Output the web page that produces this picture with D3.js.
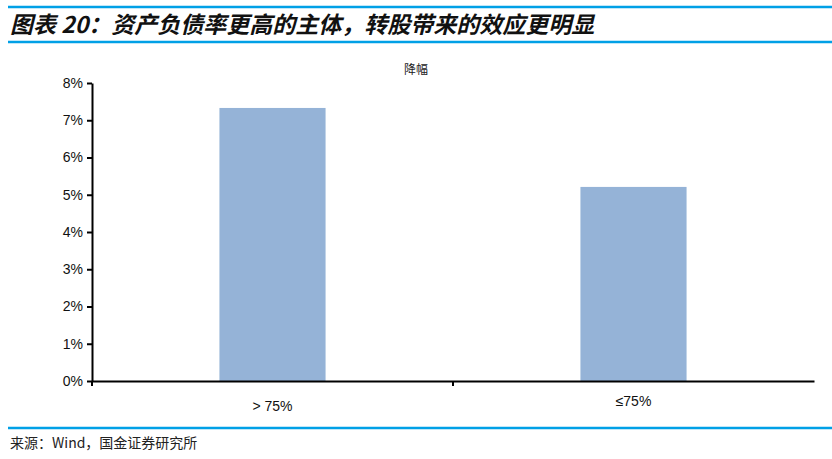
<!DOCTYPE html>
<html>
<head>
<meta charset="utf-8">
<script src="https://cdn.jsdelivr.net/npm/d3@7"></script>
<style>
body { margin: 0; background: #fff; }
</style>
</head>
<body>
<div id="chart"></div>
<script>
// bar chart: drop by debt ratio group
const categories = ["> 75%", "≤75%"]
const values = [0.0733, 0.0521]
const yTicks = [0, 0.01, 0.02, 0.03, 0.04, 0.05, 0.06, 0.07, 0.08]

const width = 832, height = 459
const margin = {left: 92, right: 18, top: 83, bottom: 78}

const svg = d3.select("#chart").append("svg")
    .attr("width", width)
    .attr("height", height)

// header
svg.append("line").attr("x1", 8).attr("x2", 832).attr("y1", 7).attr("y2", 7)
    .style("stroke", "#00a0e6").style("stroke-width", 2.5)
svg.append("line").attr("x1", 8).attr("x2", 832).attr("y1", 42).attr("y2", 42)
    .style("stroke", "#00a0e6").style("stroke-width", 2.5)
svg.append("text").attr("x", 10).attr("y", 33)
    .style("font-family", "'Noto Sans CJK SC', sans-serif")
    .style("font-size", "23px").style("font-weight", "bold").style("font-style", "italic")
    .style("fill", "#111")
    .text("图表 20：资产负债率更高的主体，转股带来的效应更明显")

// footer
svg.append("line").attr("x1", 8).attr("x2", 832).attr("y1", 428).attr("y2", 428)
    .style("stroke", "#00a0e6").style("stroke-width", 2.5)
svg.append("text").attr("x", 10).attr("y", 448)
    .style("font-family", "'Noto Sans CJK SC', sans-serif")
    .style("font-size", "14px").style("fill", "#222")
    .text("来源：Wind，国金证券研究所")

const x = d3.scaleBand().domain(categories).range([margin.left, width - margin.right]).padding(0)
const y = d3.scaleLinear().domain([0, 0.08]).range([381, 83])

svg.append("text").attr("x", 416).attr("y", 74).attr("text-anchor", "middle")
    .style("font-family", "'Noto Sans CJK SC', serif")
    .style("font-size", "12px").style("fill", "#222")
    .text("降幅")

const barW = x.bandwidth() * 0.294
svg.selectAll("rect.bar").data(values).enter().append("rect")
    .attr("class", "bar")
    .attr("x", (d, i) => x(categories[i]) + x.bandwidth() / 2 - barW / 2)
    .attr("y", d => y(d))
    .attr("width", barW)
    .attr("height", d => y(0) - y(d))
    .style("fill", "#95b3d7")

const yAxis = svg.append("g").attr("transform", "translate(" + margin.left + ",0)")
    .call(d3.axisLeft(y).tickValues(yTicks).tickFormat(d3.format(".0%")).tickSize(5).tickSizeOuter(0))
yAxis.select(".domain").style("stroke", "#000").style("stroke-width", 2)
yAxis.selectAll(".tick line").style("stroke", "#000").style("stroke-width", 2)
yAxis.selectAll("text").style("font-family", "'Liberation Sans', Arial, sans-serif")
    .style("font-size", "14px").style("fill", "#111").attr("x", -9)

const xAxis = svg.append("g").attr("transform", "translate(0,381)")
    .call(d3.axisBottom(x).tickValues([]).tickSizeOuter(0))
xAxis.select(".domain").style("stroke", "#000").style("stroke-width", 2)
// boundary ticks at left of each category
svg.append("g").selectAll("line.sep").data(categories).enter().append("line")
    .attr("x1", d => x(d)).attr("x2", d => x(d))
    .attr("y1", 381).attr("y2", 386)
    .style("stroke", "#000").style("stroke-width", 2)

svg.selectAll("text.cat").data(categories).enter().append("text")
    .attr("class", "cat")
    .attr("x", d => x(d) + x.bandwidth() / 2)
    .attr("y", (d, i) => i === 0 ? 411 : 406)
    .attr("text-anchor", "middle")
    .style("font-family", "'Liberation Sans', Arial, sans-serif")
    .style("font-size", "14px").style("fill", "#111")
    .text(d => d)
</script>
</body>
</html>
